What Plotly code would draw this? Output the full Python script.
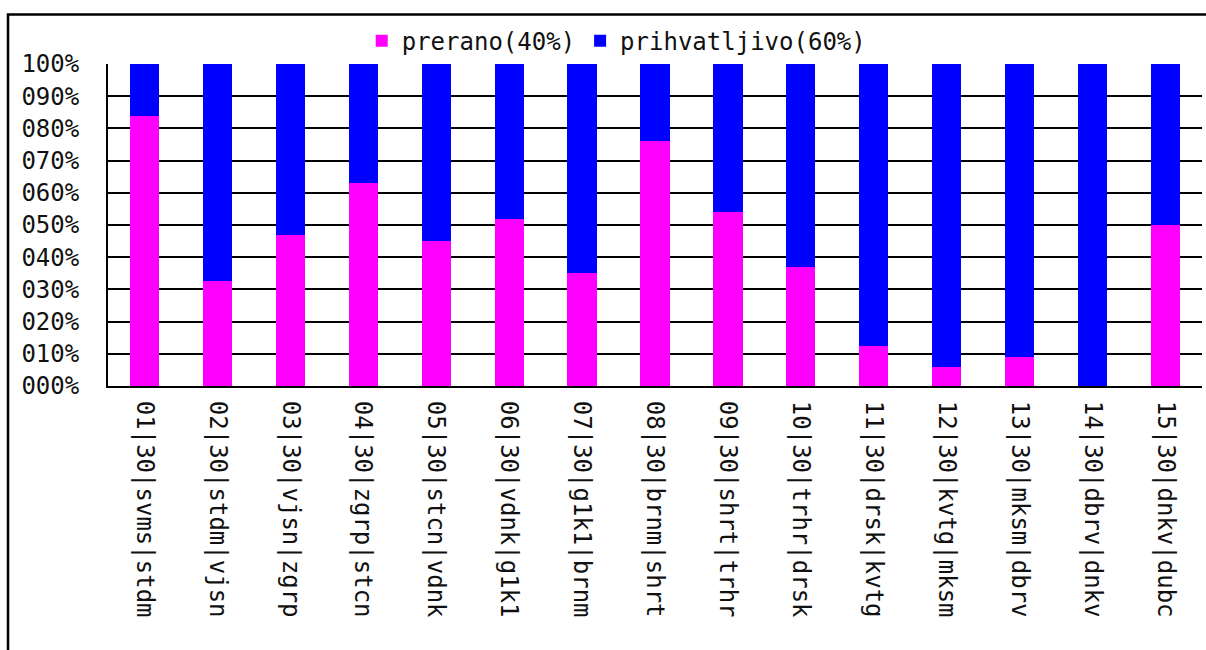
import plotly.graph_objects as go

categories = [
    "01|30|svms|stdm", "02|30|stdm|vjsn", "03|30|vjsn|zgrp", "04|30|zgrp|stcn",
    "05|30|stcn|vdnk", "06|30|vdnk|g1k1", "07|30|g1k1|brnm", "08|30|brnm|shrt",
    "09|30|shrt|trhr", "10|30|trhr|drsk", "11|30|drsk|kvtg", "12|30|kvtg|mksm",
    "13|30|mksm|dbrv", "14|30|dbrv|dnkv", "15|30|dnkv|dubc",
]
prerano = [84, 32.5, 47, 63, 45, 52, 35, 76, 54, 37, 12.5, 6, 9, 0, 50]
prihvatljivo = [16, 67.5, 53, 37, 55, 48, 65, 24, 46, 63, 87.5, 94, 91, 100, 50]
series_names = ["prerano(40%)", "prihvatljivo(60%)"]
y_tickvals = [0, 10, 20, 30, 40, 50, 60, 70, 80, 90, 100]
y_ticktext = ["000%", "010%", "020%", "030%", "040%", "050%", "060%", "070%", "080%", "090%", "100%"]

FONT = "DejaVu Sans Mono"
FS = 24

fig = go.Figure()
fig.add_trace(go.Bar(x=categories, y=prerano, name=series_names[0],
                     marker=dict(color="#FF00FF", line=dict(width=0))))
fig.add_trace(go.Bar(x=categories, y=prihvatljivo, name=series_names[1],
                     marker=dict(color="#0000FF", line=dict(width=0))))

fig.update_layout(
    barmode="stack",
    bargap=0.6,
    width=1206, height=650,
    margin=dict(l=108, r=4, t=64, b=264),
    paper_bgcolor="white", plot_bgcolor="white",
    font=dict(family=FONT, size=FS, color="#111"),
    legend=dict(orientation="h", x=0.465, xanchor="center", y=1.071, yanchor="middle",
                traceorder="normal",
                font=dict(family=FONT, size=FS, color="#111"),
                itemwidth=30, tracegroupgap=0, bgcolor="rgba(0,0,0,0)"),
    xaxis=dict(tickangle=90, showline=True, linecolor="black", linewidth=2,
               showgrid=False, ticks="", ticklabelstandoff=8,
               tickfont=dict(family=FONT, size=FS, color="#111")),
    yaxis=dict(range=[0, 100], tickvals=y_tickvals, ticktext=y_ticktext,
               showline=True, linecolor="black", linewidth=2,
               showgrid=True, gridcolor="black", gridwidth=2,
               ticks="", ticklabelstandoff=22, zeroline=False,
               tickfont=dict(family=FONT, size=FS, color="#111")),
    shapes=[dict(type="rect", xref="paper", yref="paper",
                 x0=-0.0914, x1=1.01, y0=-0.85, y1=1.154,
                 line=dict(color="black", width=2.5), fillcolor="rgba(0,0,0,0)", layer="below")],
    showlegend=True,
)

fig.write_html("out.html", config={"displayModeBar": False},
               post_script="document.body.style.margin='0';")
